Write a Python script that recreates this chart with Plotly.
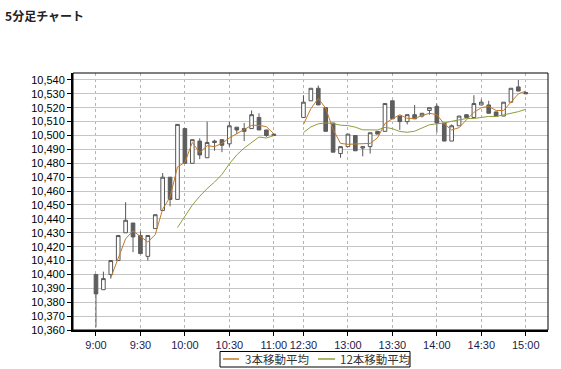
import plotly.graph_objects as go
import pandas as pd

# ---- data ----
times_am = ["9:00", "9:05", "9:10", "9:15", "9:20", "9:25", "9:30", "9:35", "9:40", "9:45",
            "9:50", "9:55", "10:00", "10:05", "10:10", "10:15", "10:20", "10:25", "10:30",
            "10:35", "10:40", "10:45", "10:50", "10:55", "11:00"]
gap_slots = ["gap1", "gap2", "gap3"]
times_pm = ["12:30", "12:35", "12:40", "12:45", "12:50", "12:55", "13:00", "13:05", "13:10",
            "13:15", "13:20", "13:25", "13:30", "13:35", "13:40", "13:45", "13:50", "13:55",
            "14:00", "14:05", "14:10", "14:15", "14:20", "14:25", "14:30", "14:35", "14:40",
            "14:45", "14:50", "14:55", "15:00"]

open_am = [10400, 10389, 10400, 10410, 10430, 10437, 10428, 10413, 10433, 10446, 10470, 10454,
           10505, 10480, 10496, 10484, 10496, 10497, 10494, 10506, 10505, 10505, 10513, 10504, 10501]
high_am = [10400, 10402, 10410, 10428, 10452, 10437, 10431, 10428, 10443, 10473, 10470, 10508,
           10505, 10497, 10498, 10510, 10497, 10497, 10510, 10506, 10509, 10518, 10516, 10504, 10501]
low_am = [10362, 10389, 10397, 10410, 10430, 10416, 10415, 10410, 10433, 10446, 10449, 10454,
          10480, 10480, 10483, 10484, 10489, 10488, 10492, 10501, 10496, 10505, 10504, 10499, 10500]
close_am = [10386, 10397, 10410, 10428, 10439, 10427, 10415, 10428, 10443, 10470, 10454, 10508,
            10480, 10497, 10486, 10495, 10495, 10493, 10507, 10504, 10503, 10515, 10504, 10500, 10500]

open_pm = [10513, 10525, 10534, 10520, 10509, 10487, 10492, 10500, 10491, 10492, 10503, 10503,
           10525, 10514, 10510, 10515, 10514, 10518, 10521, 10509, 10496, 10507, 10515, 10513,
           10522, 10522, 10517, 10514, 10524, 10535, 10531]
high_pm = [10529, 10534, 10536, 10520, 10509, 10492, 10501, 10500, 10492, 10502, 10503, 10523,
           10525, 10514, 10515, 10522, 10516, 10520, 10523, 10509, 10508, 10514, 10515, 10529,
           10526, 10525, 10517, 10524, 10534, 10540, 10531]
low_pm = [10513, 10525, 10522, 10503, 10488, 10484, 10492, 10489, 10485, 10487, 10501, 10503,
          10512, 10504, 10508, 10512, 10513, 10515, 10502, 10496, 10496, 10507, 10513, 10513,
          10522, 10516, 10514, 10514, 10524, 10532, 10530]
close_pm = [10524, 10534, 10522, 10503, 10488, 10492, 10501, 10489, 10492, 10502, 10501, 10523,
            10512, 10510, 10515, 10512, 10516, 10520, 10509, 10496, 10507, 10514, 10513, 10523,
            10524, 10516, 10514, 10524, 10534, 10532, 10530]

tick_labels = ["9:00", "9:30", "10:00", "10:30", "11:00", "12:30", "13:00", "13:30", "14:00", "14:30", "15:00"]
legend_names = ["3本移動平均", "12本移動平均"]

# ---- derived ----
times = times_am + times_pm
opens = open_am + open_pm
highs = high_am + high_pm
lows = low_am + low_pm
closes = close_am + close_pm
all_slots = times_am + gap_slots + times_pm

ma3 = pd.Series(closes, dtype=float).rolling(3).mean()
ma12 = pd.Series(closes, dtype=float).rolling(12).mean()

def with_gap(series):
    vals = [None if pd.isna(v) else float(v) for v in series]
    return vals[:len(times_am)] + [None] * len(gap_slots) + vals[len(times_am):]

ma3_full = with_gap(ma3)
ma12_full = with_gap(ma12)

c3 = "#c47a26"
c12 = "#929c3e"

fig = go.Figure()
fig.add_trace(go.Candlestick(
    x=times, open=opens, high=highs, low=lows, close=closes,
    increasing=dict(line=dict(color="#555555", width=1), fillcolor="#ffffff"),
    decreasing=dict(line=dict(color="#5c5c5c", width=1), fillcolor="#5e5e5e"),
    whiskerwidth=0, showlegend=False, hoverinfo="skip"))
fig.add_trace(go.Scatter(x=all_slots, y=ma3_full, mode="lines", name=legend_names[0],
                         line=dict(color=c3, width=1), connectgaps=False))
fig.add_trace(go.Scatter(x=all_slots, y=ma12_full, mode="lines", name=legend_names[1],
                         line=dict(color=c12, width=1), connectgaps=False))

fig.update_layout(
    width=561, height=369,
    margin=dict(l=73, r=13, t=73, b=39),
    paper_bgcolor="white", plot_bgcolor="white",
    title=dict(text="<b>5分足チャート</b>", x=0.009, xanchor="left", y=0.954, yanchor="middle",
               font=dict(family="Noto Sans CJK JP", size=12, color="#222222")),
    showlegend=False,
    font=dict(family="Liberation Sans", size=11, color="#000000"),
)

fig.update_xaxes(
    type="category", categoryorder="array", categoryarray=all_slots,
    range=[-3.1, 61.0], rangeslider=dict(visible=False),
    tickmode="array", tickvals=tick_labels, ticktext=tick_labels,
    ticks="outside", ticklen=4, tickcolor="#000000",
    tickfont=dict(family="Liberation Sans", size=11, color="#1c1c4c"),
    showgrid=True, gridcolor="#b4b4b4", griddash="dot", gridwidth=1,
    showline=True, linecolor="#000000", linewidth=2, zeroline=False,
)
fig.update_yaxes(
    range=[10360, 10545], dtick=10, tick0=10360, tickformat=",",
    ticks="outside", ticklen=4, tickcolor="#000000",
    tickfont=dict(family="Liberation Sans", size=11, color="#000000"),
    showgrid=True, gridcolor="#c6c6c6", gridwidth=1,
    showline=True, linecolor="#000000", linewidth=2, zeroline=False,
)
# plot frame
fig.add_shape(type="rect", xref="paper", yref="paper", x0=0, y0=0, x1=1, y1=1,
              line=dict(color="#000000", width=1), layer="above")

# legend box (drawn manually for the compact look of the original)
fig.add_shape(type="rect", xref="paper", yref="paper", x0=0.3095, x1=0.7095, y0=-0.1440, y1=-0.0837,
              line=dict(color="#000000", width=1), fillcolor="white")
leg_y = -0.1128
for (lx0, lx1, tx), name, col in zip([(0.3158, 0.3495, 0.3579), (0.5158, 0.5516, 0.5579)],
                                     legend_names, [c3, c12]):
    fig.add_shape(type="line", xref="paper", yref="paper", x0=lx0, x1=lx1, y0=leg_y, y1=leg_y,
                  line=dict(color=col, width=1.5))
    fig.add_annotation(xref="paper", yref="paper", x=tx, y=leg_y, xanchor="left", yanchor="middle",
                       text=name, showarrow=False,
                       font=dict(family="Noto Sans CJK JP", size=11.5, color="#333333"))

fig.write_html("out.html")
